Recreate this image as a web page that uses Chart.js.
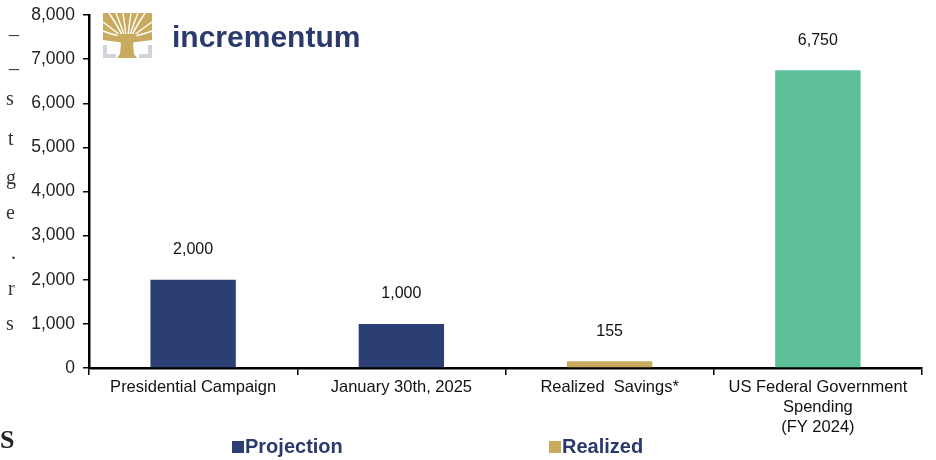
<!DOCTYPE html>
<html>
<head>
<meta charset="utf-8">
<script src="https://cdn.jsdelivr.net/npm/chart.js@4/dist/chart.umd.min.js"></script>
<style>
  html, body { margin: 0; padding: 0; background: #fff; }
  #wrap { position: relative; width: 936px; height: 460px; overflow: hidden; }
  #c { position: absolute; left: 0; top: 0; }
  .frag { position: absolute; font-family: "Liberation Serif", "DejaVu Serif", serif; font-size: 20px; color: #333; line-height: 1; }
</style>
</head>
<body>
<div id="wrap">
  <canvas id="c" width="936" height="460"></canvas>
  <span class="frag" style="left:9px;top:24px;">&#8211;</span>
  <span class="frag" style="left:9px;top:50px;">_</span>
  <span class="frag" style="left:6px;top:88px;">s</span>
  <span class="frag" style="left:8px;top:128px;">t</span>
  <span class="frag" style="left:6px;top:167px;">g</span>
  <span class="frag" style="left:6px;top:202px;">e</span>
  <span class="frag" style="left:11px;top:242px;">.</span>
  <span class="frag" style="left:8px;top:278px;">r</span>
  <span class="frag" style="left:6px;top:313px;">s</span>
  <span class="frag" style="left:0px;top:427px;font-size:26px;font-weight:bold;color:#222;">S</span>
</div>
<script>
const categories = ['Presidential Campaign', 'January 30th, 2025', 'Realized  Savings*', ['US Federal Government', 'Spending', '(FY 2024)']];
const projection = [2000, 1000, null, null];
const realized = [null, null, 155, null];
const fedSpending = [null, null, null, 6750];
const yTicks = [0, 1000, 2000, 3000, 4000, 5000, 6000, 7000, 8000];
const legendNames = ['Projection', 'Realized'];

const NAVY = '#2b3f75';
const GOLD = '#c9ab5f';
const GREEN = '#5cbf97';
const TEXTNAVY = '#2a3a6c';
const FONT = '"Liberation Sans", Arial, sans-serif';

const valueLabels = {
  id: 'valueLabels',
  afterDatasetsDraw(chart) {
    const ctx = chart.ctx;
    ctx.save();
    ctx.font = '16px ' + FONT;
    ctx.fillStyle = '#111';
    ctx.textAlign = 'center';
    ctx.textBaseline = 'middle';
    chart.data.datasets.forEach((ds, i) => {
      const meta = chart.getDatasetMeta(i);
      meta.data.forEach((el, j) => {
        const v = ds.data[j];
        if (v === null || v === undefined) return;
        ctx.fillText(v.toLocaleString('en-US'), el.x, el.y - 30);
      });
    });
    ctx.restore();
  }
};

const logoAndLegend = {
  id: 'logoAndLegend',
  afterDraw(chart) {
    const ctx = chart.ctx;
    ctx.save();
    // logo background
    ctx.fillStyle = '#ffffff';
    ctx.fillRect(91, 4, 285, 64);
    // tree canopy
    const cx = 127, base = 46;
    ctx.fillStyle = GOLD;
    ctx.beginPath();
    ctx.moveTo(103, 13); ctx.lineTo(152, 13); ctx.lineTo(152, 40);
    ctx.lineTo(136, 42); ctx.lineTo(118, 42); ctx.lineTo(103, 40); ctx.closePath();
    ctx.fill();
    ctx.strokeStyle = '#ffffff';
    ctx.lineWidth = 1.4;
    const tops = [[109,13],[116,13],[123,13],[131,13],[138,13],[145,13],[103,22],[103,31],[152,22],[152,31]];
    tops.forEach(([tx, ty]) => {
      ctx.beginPath();
      ctx.moveTo(cx + (tx - cx) * 0.25, base - 10);
      ctx.quadraticCurveTo((cx + tx) / 2, (ty + base) / 2 - 3, tx, ty);
      ctx.stroke();
    });
    ctx.fillStyle = GOLD;
    ctx.beginPath();
    ctx.moveTo(117, 34); ctx.lineTo(137, 34); ctx.lineTo(133, 44); ctx.lineTo(134, 54); ctx.lineTo(137, 58);
    ctx.lineTo(117, 58); ctx.lineTo(120, 54); ctx.lineTo(121, 44); ctx.closePath(); ctx.fill();
    // gray brackets
    ctx.fillStyle = '#d2d3da';
    ctx.fillRect(103, 45, 4, 13); ctx.fillRect(103, 54, 13, 4);
    ctx.fillRect(148, 45, 4, 13); ctx.fillRect(139, 54, 13, 4);
    // logo text
    ctx.fillStyle = TEXTNAVY;
    ctx.font = 'bold 30px ' + FONT;
    ctx.textAlign = 'left';
    ctx.textBaseline = 'alphabetic';
    ctx.fillText('incrementum', 172, 47);
    // legend
    const items = [[232, NAVY, legendNames[0]], [549, GOLD, legendNames[1]]];
    ctx.font = 'bold 20px ' + FONT;
    ctx.textBaseline = 'middle';
    items.forEach(([x, col, name]) => {
      ctx.fillStyle = col;
      ctx.fillRect(x, 441, 12, 12);
      ctx.fillStyle = TEXTNAVY;
      ctx.fillText(name, x + 13, 447);
    });
    ctx.restore();
  }
};

new Chart(document.getElementById('c'), {
  type: 'bar',
  data: {
    labels: categories,
    datasets: [
      { label: legendNames[0], data: projection, backgroundColor: NAVY },
      { label: legendNames[1], data: realized, backgroundColor: GOLD },
      { label: 'US Federal Government Spending', data: fedSpending, backgroundColor: GREEN }
    ]
  },
  options: {
    responsive: false,
    animation: false,
    devicePixelRatio: 1,
    layout: { padding: { left: 0, right: 14, top: 2, bottom: 0 } },
    datasets: { bar: { categoryPercentage: 1, barPercentage: 0.41 } },
    plugins: { legend: { display: false }, tooltip: { enabled: false } },
    scales: {
      x: {
        stacked: true,
        afterFit(s) { s.height = 92; },
        grid: { display: true, offset: true, drawOnChartArea: false, drawTicks: true, tickLength: 7, color: '#000', lineWidth: 1.5 },
        border: { display: true, color: '#000', width: 2.5 },
        ticks: { color: '#111', font: { family: FONT, size: 16.5 }, padding: 3, maxRotation: 0, autoSkip: false }
      },
      y: {
        stacked: true,
        min: 0, max: 8000,
        afterFit(s) { s.width = 89; },
        afterBuildTicks(s) { s.ticks = yTicks.map(v => ({ value: v })); },
        grid: { display: true, drawOnChartArea: false, drawTicks: true, tickLength: 6, color: '#000', lineWidth: 1.5 },
        border: { display: true, color: '#000', width: 2.5 },
        ticks: { color: '#222', font: { family: FONT, size: 17.5, lineHeight: 0.8 }, padding: 8,
          callback: v => Number(v).toLocaleString('en-US') }
      }
    }
  },
  plugins: [valueLabels, logoAndLegend]
});
</script>
</body>
</html>
